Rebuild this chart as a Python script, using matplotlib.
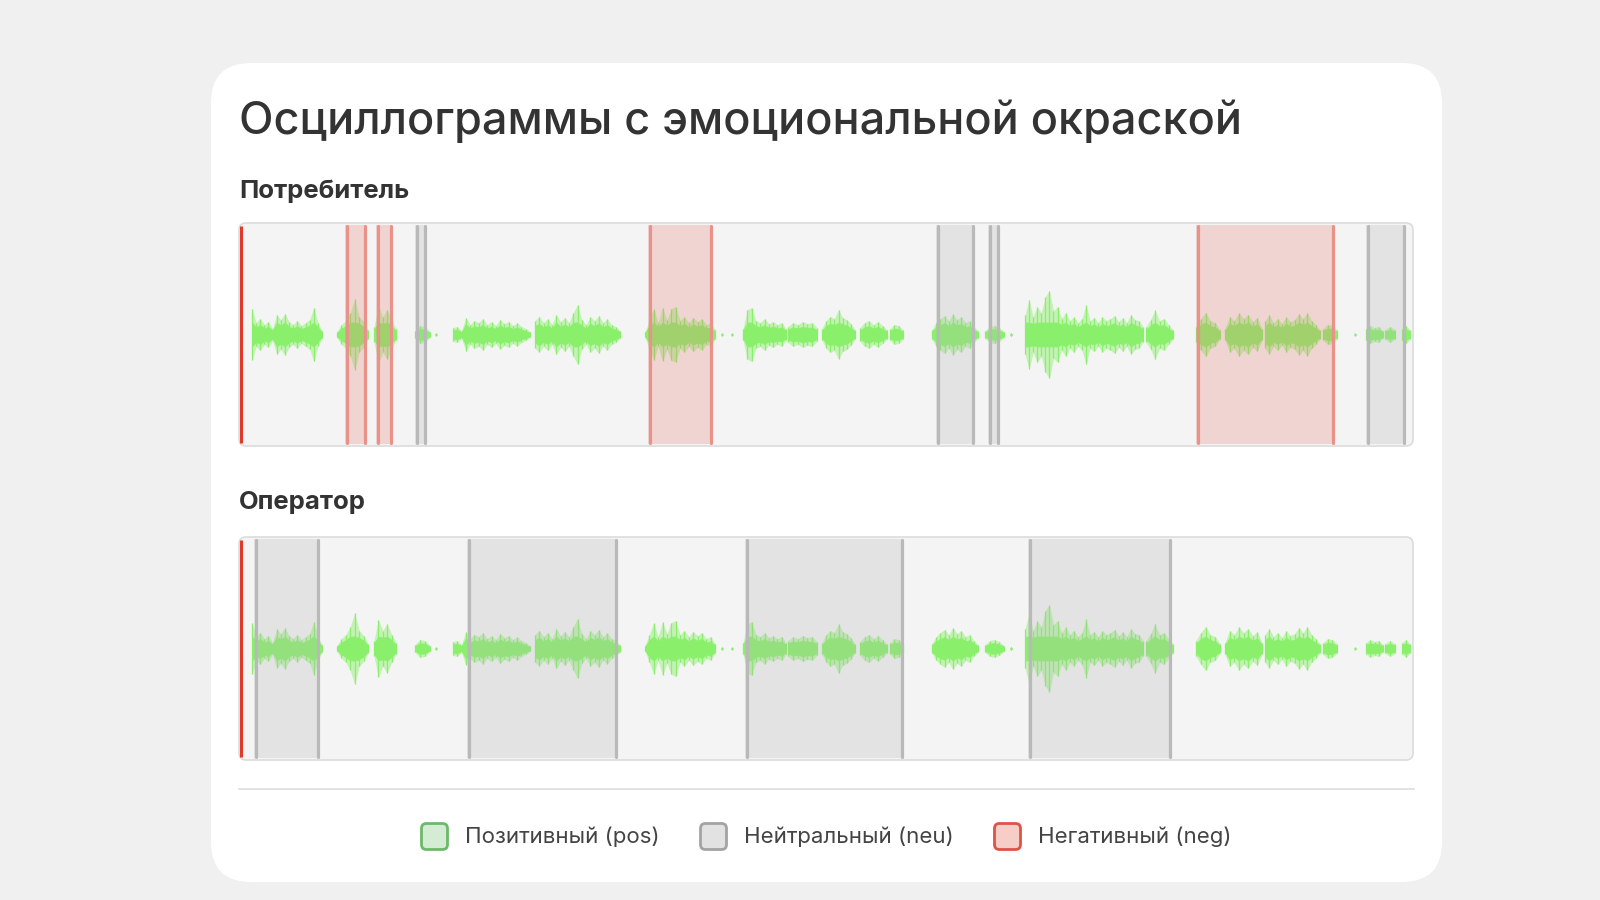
import numpy as np
import matplotlib
matplotlib.use('Agg')
import matplotlib.pyplot as plt
from matplotlib.patches import FancyBboxPatch

plt.rcParams['font.family'] = ['Inter', 'DejaVu Sans']

# track length in seconds
DURATION = 117.4
PLAYHEAD = 0.15

# speech bursts (same audio in both tracks): start, end, amplitude samples
burst_starts = [1.3, 9.8, 13.5, 17.6, 19.6, 21.4, 29.6, 40.6, 48.2, 49.2,
                50.4, 54.9, 58.3, 62.1, 65.1, 69.3, 74.6, 77.1, 78.6, 90.7,
                95.7, 98.6, 102.6, 108.4, 111.5, 112.7, 114.6, 116.3]
burst_ends = [8.3, 12.9, 15.7, 19.1, 19.8, 29.1, 38.1, 47.6, 48.4, 49.4,
              54.7, 57.8, 61.6, 64.8, 66.4, 73.9, 76.5, 77.3, 90.4, 93.4,
              98.1, 102.3, 108.1, 109.8, 111.7, 114.4, 115.6, 117.1]
burst_amps = [
    [26, 12, 16, 10, 13, 6, 20, 15, 21, 13, 10, 14, 9, 12, 15, 27, 12, 4],
    [3, 10, 14, 22, 36, 18, 13, 5],
    [8, 29, 18, 25, 14, 6],
    [4, 9, 8, 3],
    [0, 1.5, 0],
    [7, 8, 4, 17, 10, 14, 12, 16, 10, 13, 9, 15, 11, 13, 9, 12, 8, 6, 3],
    [14, 18, 12, 16, 10, 20, 13, 17, 12, 22, 30, 15, 10, 18, 14, 19, 12, 16, 10, 8, 4],
    [3, 14, 26, 12, 27, 15, 26, 28, 14, 18, 12, 17, 13, 16, 10, 12, 5],
    [0, 1.5, 0],
    [0, 1.5, 0],
    [6, 25, 27, 14, 12, 16, 11, 13, 10, 12, 6],
    [8, 12, 10, 13, 11, 12, 7],
    [6, 14, 18, 16, 25, 17, 15, 11, 5],
    [7, 12, 14, 10, 13, 9, 5],
    [6, 10, 9, 5],
    [5, 12, 16, 19, 14, 21, 15, 18, 12, 14, 8, 4],
    [4, 8, 9, 7, 3],
    [0, 2, 0],
    [20, 35, 18, 28, 22, 38, 44, 24, 28, 16, 22, 14, 18, 12, 16, 30, 14, 17,
     12, 18, 14, 16, 19, 13, 17, 12, 20, 15, 14, 8],
    [8, 15, 25, 14, 16, 10, 5],
    [8, 16, 22, 14, 12, 5],
    [6, 18, 14, 22, 16, 20, 13, 17, 6],
    [14, 20, 12, 16, 11, 18, 13, 15, 21, 16, 22, 14, 10, 5],
    [6, 10, 9, 5],
    [0, 1.5, 0],
    [6, 9, 7, 8, 4],
    [5, 8, 5],
    [6, 9, 5],
]

# emotion segments
client_seg_start = [10.6, 13.7, 17.6, 40.9, 69.7, 74.9, 95.7, 112.7]
client_seg_end = [12.7, 15.3, 18.7, 47.3, 73.5, 76.0, 109.5, 116.6]
client_seg_label = ['neg', 'neg', 'neu', 'neg', 'neu', 'neu', 'neg', 'neu']

operator_seg_start = [1.5, 22.8, 50.6, 78.9]
operator_seg_end = [8.0, 37.8, 66.4, 93.2]
operator_seg_label = ['neu', 'neu', 'neu', 'neu']

legend_labels = ['Позитивный (pos)', 'Нейтральный (neu)', 'Негативный (neg)']

WAVE = '#8af06c'
SEG_FILL = {'pos': '#6cc36a', 'neu': '#b3b3b3', 'neg': '#e4786e'}
SEG_EDGE = {'pos': '#6cb96a', 'neu': '#b9b9b9', 'neg': '#e8928a'}

fig = plt.figure(figsize=(16, 9), dpi=100)
fig.patch.set_facecolor('#f0f0f0')

# background axes in pixel units
bg = fig.add_axes([0, 0, 1, 1])
bg.set_xlim(0, 1600)
bg.set_ylim(900, 0)
bg.axis('off')

bg.add_patch(FancyBboxPatch((211, 63), 1231, 819, boxstyle='round,pad=0,rounding_size=40',
                            fc='white', ec='none'))

bg.text(239, 121, 'Осциллограммы с эмоциональной окраской', fontsize=32.4,
        fontweight='medium', color='#333333', va='center', ha='left')
bg.text(239, 191, 'Потребитель', fontsize=18.5, fontweight='bold', color='#333333',
        va='center', ha='left')
bg.text(239, 503, 'Оператор', fontsize=18.5, fontweight='bold', color='#333333',
        va='center', ha='left')

panels = [(223, 'client'), (537, 'operator')]
for top, _ in panels:
    bg.add_patch(FancyBboxPatch((239, top), 1174, 223, boxstyle='round,pad=0,rounding_size=7',
                                fc='#f4f4f4', ec='#dcdcdc', lw=1.2))

bg.plot([239, 1414], [789, 789], color='#dddddd', lw=1.2)

# legend
legend_x = [420, 699, 993]
legend_text_x = [465, 744, 1038]
legend_fc = ['#d4ecd3', '#e2e2e2', '#f7cdc8']
legend_ec = ['#6cb96a', '#a3a3a3', '#dc5446']
for x, tx, lab, fc, ec in zip(legend_x, legend_text_x, legend_labels, legend_fc, legend_ec):
    bg.add_patch(FancyBboxPatch((x + 1.5, 823.5), 26, 26, boxstyle='round,pad=0,rounding_size=5',
                                fc=fc, ec=ec, lw=2))
    bg.text(tx, 837, lab, fontsize=16, color='#444444', va='center', ha='left')


def draw_track(top, seg_start, seg_end, seg_label):
    ax = fig.add_axes([239 / 1600, 1 - (top + 223) / 900, 1174 / 1600, 223 / 900])
    ax.set_xlim(0, DURATION)
    ax.set_ylim(-112, 112)
    ax.axis('off')
    for s, e, amps in zip(burst_starts, burst_ends, burst_amps):
        t = np.linspace(s, e, len(amps))
        a = np.array(amps, dtype=float)
        core = np.clip(a * 0.6, 0, 12)
        # soft outer envelope, solid core, thin hairs at each sample
        ax.fill_between(t, -a, a, color=WAVE, alpha=0.45, lw=0, zorder=2)
        ax.fill_between(t, -core, core, color=WAVE, lw=0.6, zorder=2)
        ax.vlines(t, -a, a, colors=WAVE, lw=0.9, zorder=2)
    for s, e, lab in zip(seg_start, seg_end, seg_label):
        ax.axvspan(s, e, ymin=0.008, ymax=0.992, color=SEG_FILL[lab], alpha=0.25, lw=0, zorder=3)
        ax.vlines([s + 0.15, e - 0.15], -109, 109, colors=SEG_EDGE[lab], lw=2.3,
                  capstyle='round', zorder=4)
    ax.vlines([PLAYHEAD], -109, 109, colors='#e03a2a', lw=2.2, zorder=5)
    return ax


ax1 = draw_track(223, client_seg_start, client_seg_end, client_seg_label)
ax2 = draw_track(537, operator_seg_start, operator_seg_end, operator_seg_label)

fig.savefig('out.png', dpi=100, facecolor=fig.get_facecolor())
